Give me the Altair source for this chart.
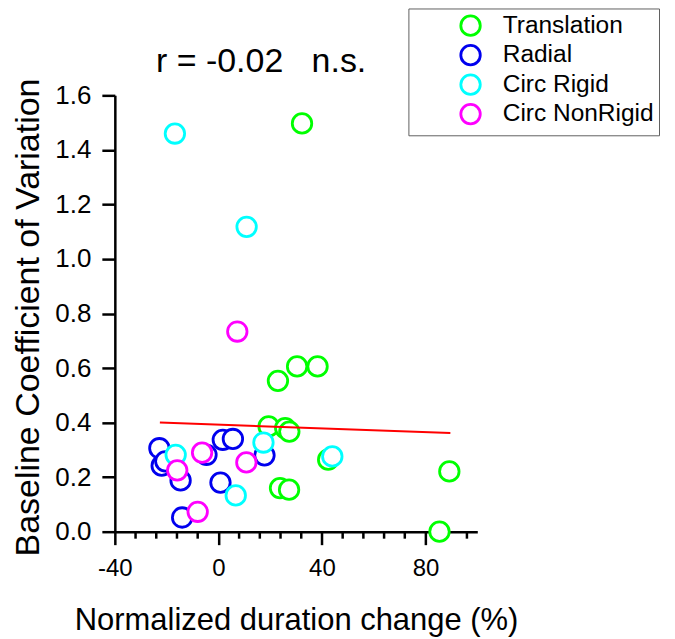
import altair as alt
import pandas as pd

# ---- data ----
groups = ["Translation", "Radial", "Circ Rigid", "Circ NonRigid"]
colors = ["#00ff00", "#0000ee", "#00ffff", "#ff00ff"]

trans_x = [32.3, 23.0, 30.4, 38.3, 19.4, 25.8, 27.4, 42.4, 23.8, 27.3, 89.2, 85.4]
trans_y = [1.497, 0.553, 0.606, 0.606, 0.386, 0.380, 0.367, 0.264, 0.160, 0.154, 0.221, 0.0]

radial_x = [-22.8, -21.9, -20.5, -14.6, -14.0, -4.6, 1.7, 5.6, 0.8, 17.8]
radial_y = [0.306, 0.242, 0.258, 0.188, 0.052, 0.282, 0.337, 0.340, 0.180, 0.280]

rigid_x = [-16.8, 10.9, -16.5, 6.7, 17.4, 44.0]
rigid_y = [1.460, 1.118, 0.282, 0.133, 0.327, 0.276]

nonrigid_x = [7.3, -15.9, -8.0, -6.3, 10.8]
nonrigid_y = [0.734, 0.225, 0.073, 0.290, 0.254]

fit_x = [-22.6, 89.6]
fit_y = [0.400, 0.362]

x_major = [-40, 0, 40, 80]
x_minor = [-32, -24, -16, -8, 8, 16, 24, 32, 48, 56, 64, 72, 88, 96]
y_ticks = [0.0, 0.2, 0.4, 0.6, 0.8, 1.0, 1.2, 1.4, 1.6]

title_text = "r = -0.02\u00a0\u00a0\u00a0n.s."
x_title = "Normalized duration change (%)"
y_title = "Baseline Coefficient of Variation"

# ---- tables ----
rows = []
for g, xs, ys in zip(groups, [trans_x, radial_x, rigid_x, nonrigid_x],
                     [trans_y, radial_y, rigid_y, nonrigid_y]):
    for xv, yv in zip(xs, ys):
        rows.append({"x": xv, "y": yv, "group": g})
pts = pd.DataFrame(rows)
fit = pd.DataFrame({"x": fit_x, "y": fit_y})
minor = pd.DataFrame({"x": x_minor})

FONT = "Liberation Sans"
xscale = alt.Scale(domain=[-40, 100], nice=False, zero=False)
yscale = alt.Scale(domain=[0, 1.6], nice=False, zero=False)

common_axis = dict(grid=False, domainColor="black", tickColor="black",
                   domainWidth=2.5, tickWidth=2.5, labelColor="black",
                   labelFont=FONT, titleFont=FONT, titleColor="black",
                   titleFontWeight="normal", labelFlush=False, labelOverlap=False)

# minor ticks of the x axis (below the axis line, under the points)
minor_ticks = alt.Chart(minor).mark_rule(color="black", strokeWidth=2.5).encode(
    x=alt.X("x:Q", scale=xscale, title=x_title),
    y=alt.value(437),
    y2=alt.value(444),
)

points = alt.Chart(pts).mark_point(
    filled=False, fill="white", fillOpacity=1, opacity=1, size=380, strokeWidth=2.8
).encode(
    x=alt.X("x:Q", scale=xscale, axis=alt.Axis(
        values=x_major, tickSize=13, labelFontSize=24, labelPadding=12,
        labelExpr="'' + datum.value",
        title=x_title, titleFontSize=31, titleBaseline="alphabetic", titleY=98,
        orient="bottom", **common_axis)),
    y=alt.Y("y:Q", scale=yscale, axis=alt.Axis(
        values=y_ticks, format=".1f", tickSize=13, labelFontSize=26, labelPadding=11,
        title=y_title, titleFontSize=34, titleBaseline="alphabetic",
        titleX=-76, titleY=222, titleAngle=270, **common_axis)),
    color=alt.Color("group:N", sort=groups,
                    scale=alt.Scale(domain=groups, range=colors),
                    legend=alt.Legend(
                        title=None, orient="none", legendX=294, legendY=-87,
                        symbolType="circle", symbolSize=380, symbolStrokeWidth=2.8,
                        symbolFillColor="white",
                        labelFontSize=24.5, labelFont=FONT, labelColor="black",
                        labelOffset=20, rowPadding=-2.5, padding=5, symbolOffset=45,
                        strokeColor="#606060", fillColor="white")),
    order=alt.Order("group_order:Q"),
).transform_calculate(
    group_order="indexof(%s, datum.group)" % str(groups)
)

line = alt.Chart(fit).mark_line(color="red", strokeWidth=2).encode(
    x=alt.X("x:Q", scale=xscale, title=x_title),
    y=alt.Y("y:Q", scale=yscale, title=y_title),
)

chart = alt.layer(minor_ticks, points, line).properties(
    width=363, height=437,
    view=alt.ViewBackground(stroke=None, strokeWidth=0),
    title=alt.TitleParams(title_text, fontSize=34, font=FONT, fontWeight="normal",
                          color="black", anchor="middle", frame="group",
                          dx=-35, dy=98, offset=0, baseline="alphabetic"),
    autosize=alt.AutoSizeParams(type="none"),
    padding={"left": 107, "top": 87, "right": 190, "bottom": 105},
).configure_view(stroke=None, strokeWidth=0).configure_axis(grid=False).configure(
    background="white")

chart.save("out.html", embed_options={"renderer": "svg", "actions": False})
